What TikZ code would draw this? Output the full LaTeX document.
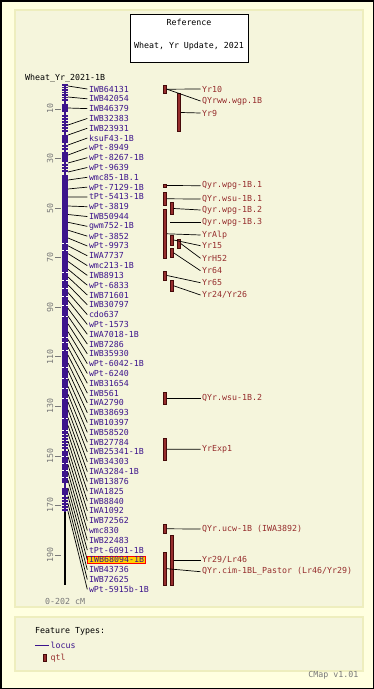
\documentclass[tikz,border=0pt]{standalone}
\usepackage{fontspec}
\newfontfamily\mapfont{DejaVu Sans Mono}
\usetikzlibrary{positioning}
\definecolor{outerbg}{RGB}{255,255,224}
\definecolor{panelbg}{RGB}{245,245,220}
\definecolor{paneledge}{RGB}{238,238,190}
\definecolor{locuscol}{RGB}{60,20,140}
\definecolor{qtlcol}{RGB}{150,45,45}
\definecolor{qtledge}{RGB}{70,10,10}
\definecolor{scalegray}{RGB}{120,120,120}
\definecolor{hiliteyellow}{RGB}{255,210,0}
\tikzset{
  maptext/.style={font=\mapfont\fontsize{8.3}{9}\selectfont,inner xsep=1.5pt,inner ysep=0.5pt},
  locuslabel/.style={maptext,text=locuscol,anchor=west},
  hilite/.style={locuslabel,fill=hiliteyellow,draw=red,line width=0.8pt},
  qtllabel/.style={maptext,text=qtlcol,anchor=west},
  qtlbar/.style={draw=qtledge,fill=qtlcol,line width=0.6pt,minimum width=3.4pt,inner sep=0pt},
  link/.style={line width=0.7pt},
  panel/.style={fill=panelbg,draw=paneledge,line width=1.5pt}
}

\begin{document}
\begin{tikzpicture}[x=1pt,y=-1pt,
  notch/.style={white,line width=0.8pt},
  locustick/.style={locuscol,line width=1.2pt}
]
  \useasboundingbox (0,0) rectangle (374,689);
  \draw[fill=outerbg,line width=1.5pt] (0.75,0.75) rectangle (373.25,688.25);
  \draw[panel] (15,10) rectangle (363,607);
  \draw[panel] (15,617) rectangle (363,671);
  \node[draw,fill=white,line width=0.8pt,minimum width=118pt,minimum height=48pt] (titlebox) at (189,38) {};
  \node[maptext] (reftitle) at (189,22) {Reference};
  \node[maptext] (settitle) at (189,46) {Wheat, Yr Update, 2021};
  \node[maptext,anchor=west] (mapname) at (23.5,78) {Wheat\_Yr\_2021-1B};

  \draw[line width=2pt] (65,84) coordinate (maptop) -- (65,585) coordinate (mapbottom);
  \fill[locuscol] (64.2,84) rectangle (65.8,512);
  \foreach \a/\b in {104/112,135/143,152/162,175/434,451/483,488/495}
    \fill[locuscol] (62,\a) rectangle (68,\b);
  \foreach \y in {85,87.5,90,92.5,95,97.5,100,116,119,122,125,128,131,146,149,
                  165,168,171,436,439,442,445,448,498,501,504,507,510}
    \draw[locustick] (62,\y) -- (68,\y);
  \foreach \y in {243,250,272,280,288,296,305,316,337,342,350,367,378,388,398,418,430,456,463,470,477} {
    \draw[notch] (62,\y) -- (63.6,\y);
    \draw[notch] (66.4,\y) -- (68,\y);
  }
  \foreach \c in {10,30,...,190} {
    \pgfmathsetmacro\sy{84.2+2.478*\c}
    \draw[scalegray,link] (55,\sy) -- (61,\sy);
    \node[maptext,text=scalegray,rotate=90] (s\c) at (50,\sy) {\c};
  }
  \node[maptext,text=scalegray,anchor=west] (maprange) at (43.5,601) {0-202 cM};

  \foreach \lname/\ly [count=\i from 0] in {IWB64131/86, IWB42054/97, IWB46379/108,
      IWB32383/125, IWB23931/135, ksuF43-1B/145, wPt-8949/155, wPt-8267-1B/163,
      wPt-9639/172, wmc85-1B.1/180, wPt-7129-1B/189, tPt-5413-1B/197, wPt-3819/206,
      IWB50944/214.5, gwm752-1B/222.3, wPt-3852/230.2, wPt-9973/238, IWA7737/245.8,
      wmc213-1B/253.6, IWB8913/261.4, wPt-6833/269.2, IWB71601/277, IWB30797/284.8,
      cdo637/292.6, wPt-1573/300.4, IWA7018-1B/308.3, IWB7286/316.1, IWB35930/323.9,
      wPt-6042-1B/331.7, wPt-6240/339.5, IWB31654/347.3, IWB561/355.1, IWA2790/362.9,
      IWB38693/370.7, IWB10397/378.5, IWB58520/386.4, IWB27784/394.2, IWB25341-1B/402,
      IWB34303/409.8, IWA3284-1B/417.6, IWB13876/425.4, IWA1825/433.2, IWB8840/441,
      IWA1092/448.8, IWB72562/456.6, wmc830/464.5, IWB22483/472.3, tPt-6091-1B/480.1,
      IWB68094-1B/487.9, IWB43736/495.7, IWB72625/503.5, wPt-5915b-1B/511.3} {
    \pgfmathsetmacro\ty{89+9.81*\i}
    \ifnum\i=48 \def\lstyle{hilite}\else\def\lstyle{locuslabel}\fi
    \coordinate (l\i) at (68,\ly);
    \node[\lstyle] (t\i) at (87.3,\ty) {\lname};
    \draw[link] (l\i) -- (t\i.west);
  }

  \foreach \qname/\qx/\qy/\qh in {yr10/165/89.2/8.3, yr9/179/112.5/38.4, wpga/165/185.5/3,
      wsua/165/198.8/12.3, wpgb/171.7/208.5/11.6, alp/165/233.8/49, yr15/171.7/240/10,
      h52/179/243.7/9.3, yr64/171.7/252.8/9, yr65/165/275.5/9, yr24/171.7/285.8/11.7,
      wsub/165/398.3/12, exp1/165/449.2/21.7, ucw/165/528.8/9, yr29/171.7/560/50,
      pastor/165/568.7/32.7}
    \node[qtlbar,minimum height=\qh pt] (\qname) at (\qx,\qy) {};
  \coordinate (wpgc) at (170,222.7);
  \foreach \qtext/\qy/\qfrom [count=\k] in {Yr10/89/yr10.east, QYrww.wgp.1B/101/yr10.east,
      Yr9/113/yr9.east, Qyr.wpg-1B.1/185.7/wpga.east, QYr.wsu-1B.1/199/wsua.east,
      Qyr.wpg-1B.2/210/wpgb.east, Qyr.wpg-1B.3/222.7/wpgc, YrAlp/235/alp.east,
      Yr15/245.7/yr15.east, YrH52/258.3/h52.east, Yr64/270.7/yr64.east,
      Yr65/282.7/yr65.east, {Yr24/Yr26}/295/yr24.east, QYr.wsu-1B.2/398.3/wsub.east,
      YrExp1/449.3/exp1.east, {QYr.ucw-1B (IWA3892)}/529/ucw.east,
      {Yr29/Lr46}/560/yr29.east, {QYr.cim-1BL\_Pastor (Lr46/Yr29)}/571.7/pastor.east} {
    \node[qtllabel] (q\k) at (200.5,\qy) {\qtext};
    \draw[link] (\qfrom) -- (q\k.west);
  }

  \node[maptext,anchor=west] (legendhead) at (33.5,631) {Feature Types:};
  \coordinate (legendline) at (35,645);
  \node[locuslabel] (legendlocus) at (49,645) {locus};
  \draw[locuscol,line width=1pt] (legendline) -- (legendlocus.west);
  \node[qtlbar,minimum height=7.5pt] (legendbar) at (44.5,658) {};
  \node[qtllabel,right=2.5pt of legendbar] (legendqtl) {qtl};
  \node[maptext,text=scalegray,anchor=east] (version) at (360,675) {CMap v1.01};
\end{tikzpicture}
\end{document}
